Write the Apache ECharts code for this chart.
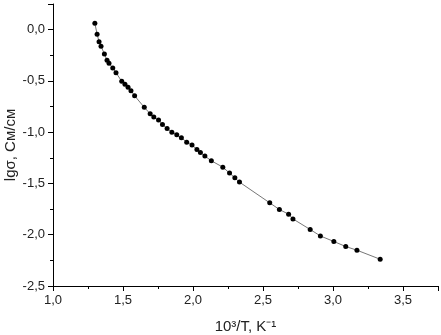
<!DOCTYPE html>
<html>
<head>
<meta charset="utf-8">
<script src="https://cdn.jsdelivr.net/npm/echarts@6/dist/echarts.min.js"></script>
<style>
  html, body { margin: 0; padding: 0; background: #fff; }
  #chart { width: 441px; height: 335px; }
</style>
</head>
<body>
<div id="chart"></div>
<script>
// 10^3/T, K^-1
var invT = [1.299, 1.315, 1.329, 1.343, 1.367, 1.386, 1.400, 1.427, 1.450, 1.491,
    1.514, 1.536, 1.557, 1.583, 1.652, 1.694, 1.720, 1.754, 1.782, 1.815,
    1.849, 1.884, 1.917, 1.955, 1.993, 2.028, 2.053, 2.085, 2.131, 2.213,
    2.261, 2.299, 2.332, 2.548, 2.617, 2.683, 2.714, 2.837, 2.910, 3.006,
    3.091, 3.171, 3.337];
// lg sigma
var lgSigma = [0.062, -0.045, -0.117, -0.162, -0.237, -0.299, -0.328, -0.374, -0.420, -0.504,
    -0.533, -0.563, -0.596, -0.645, -0.758, -0.820, -0.853, -0.882, -0.925, -0.965,
    -1.000, -1.025, -1.055, -1.097, -1.126, -1.168, -1.197, -1.233, -1.279, -1.341,
    -1.399, -1.445, -1.487, -1.689, -1.754, -1.800, -1.846, -1.949, -2.012, -2.066,
    -2.115, -2.151, -2.239];

var points = [];
for (var i = 0; i < invT.length; i++) {
    points.push([invT[i], lgSigma[i]]);
}

// запятая как десятичный разделитель
function comma(v) {
    return v.toFixed(1).replace('.', ',');
}

var axisText = { color: '#222', fontFamily: 'Liberation Sans, Arial, sans-serif', fontSize: 13 };
var titleText = { color: '#222', fontFamily: 'Liberation Sans, Arial, sans-serif', fontSize: 15 };

var myChart = echarts.init(document.getElementById('chart'));
var option = {
    animation: false,
    backgroundColor: '#fff',
    grid: { left: 53, right: 3, top: 4, bottom: 49, outerBoundsMode: 'none', containLabel: false },
    xAxis: {
        type: 'value',
        min: 1.0, max: 3.75, interval: 0.5,
        name: '10³/T, K⁻¹',
        nameLocation: 'middle',
        nameMoveOverlap: false,
        nameGap: 33,
        nameTextStyle: titleText,
        axisLine: { onZero: false, lineStyle: { color: '#000', width: 1 } },
        axisTick: { show: true, inside: false, length: 5, lineStyle: { color: '#000' } },
        minorTick: { show: true, splitNumber: 2, length: 3, lineStyle: { color: '#000' } },
        splitLine: { show: false },
        axisLabel: Object.assign({ margin: 8, formatter: comma, showMaxLabel: false }, axisText)
    },
    yAxis: {
        type: 'value',
        min: -2.5, max: 0.25, interval: 0.5,
        name: 'lgσ, См/см',
        nameLocation: 'middle',
        nameMoveOverlap: false,
        nameGap: 35,
        nameTextStyle: titleText,
        axisLine: { show: true, onZero: false, lineStyle: { color: '#000', width: 1 } },
        axisTick: { show: true, inside: false, length: 5, lineStyle: { color: '#000' } },
        minorTick: { show: true, splitNumber: 2, length: 3, lineStyle: { color: '#000' } },
        splitLine: { show: false },
        axisLabel: Object.assign({ margin: 8, formatter: comma, showMaxLabel: false }, axisText)
    },
    series: [{
        type: 'line',
        data: points,
        symbol: 'circle',
        symbolSize: 5,
        itemStyle: { color: '#000' },
        lineStyle: { color: '#777', width: 1 }
    }]
};
myChart.setOption(option);
</script>
</body>
</html>
